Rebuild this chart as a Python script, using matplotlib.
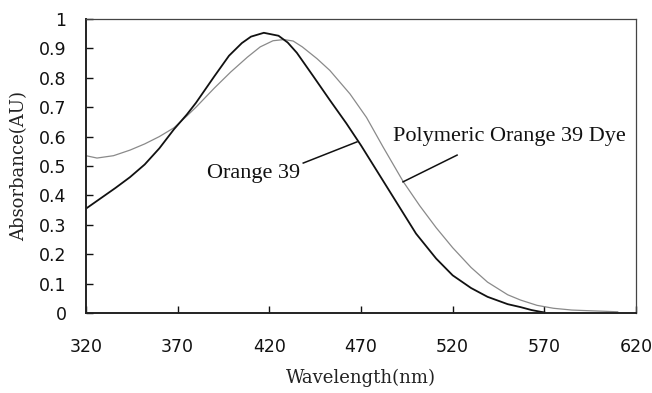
import matplotlib.pyplot as plt
import numpy as np

# absorbance spectra
wl_orange = [320, 328, 336, 344, 352, 360, 368, 375, 380, 390, 398, 405, 410, 417,
             425, 430, 435, 444, 453, 462, 470, 480, 490, 500, 511, 520, 530, 539,
             550, 557, 563, 568, 570]
abs_orange = [0.355, 0.39, 0.425, 0.462, 0.505, 0.56, 0.625, 0.675, 0.715, 0.805,
              0.875, 0.918, 0.94, 0.953, 0.943, 0.92, 0.885, 0.805, 0.724, 0.645,
              0.57, 0.47, 0.37, 0.27, 0.185, 0.128, 0.085, 0.055, 0.03, 0.02, 0.01,
              0.004, 0.002]

wl_poly = [320, 326, 335, 344, 352, 360, 368, 375, 380, 390, 399, 408, 415, 422,
           428, 433, 438, 446, 453, 464, 473, 482, 493, 502, 511, 520, 530, 539,
           550, 557, 566, 575, 585, 593, 602, 610]
abs_poly = [0.535, 0.527, 0.535, 0.554, 0.575, 0.60, 0.63, 0.67, 0.70, 0.765, 0.82,
            0.87, 0.905, 0.926, 0.93, 0.925, 0.905, 0.865, 0.825, 0.745, 0.665, 0.565,
            0.447, 0.365, 0.29, 0.222, 0.155, 0.105, 0.062, 0.044, 0.026, 0.016,
            0.01, 0.008, 0.006, 0.004]

xticks = [320, 370, 420, 470, 520, 570, 620]
yticks = [0, 0.1, 0.2, 0.3, 0.4, 0.5, 0.6, 0.7, 0.8, 0.9, 1]
ytick_labels = ['0', '0.1', '0.2', '0.3', '0.4', '0.5', '0.6', '0.7', '0.8', '0.9', '1']

fig = plt.figure(figsize=(6.52, 3.93), dpi=100)
ax = fig.add_axes([0.1319, 0.2036, 0.8436, 0.7481])

ax.plot(wl_poly, abs_poly, color='#8a8a8a', lw=0.9)
ax.plot(wl_orange, abs_orange, color='#111111', lw=1.3)

ax.set_xlim(320, 620)
ax.set_ylim(0, 1)
ax.set_xticks(xticks)
ax.set_yticks(yticks)
ax.set_yticklabels(ytick_labels)
ax.tick_params(direction='in', length=5, width=1, labelsize=12.5, colors='#111111')
ax.tick_params(axis='x', pad=18)
ax.tick_params(axis='y', pad=14)
for lab in ax.get_xticklabels() + ax.get_yticklabels():
    lab.set_fontfamily('DejaVu Sans')

for side in ['left', 'bottom']:
    ax.spines[side].set_linewidth(1.4)
    ax.spines[side].set_color('#222222')
for side in ['top', 'right']:
    ax.spines[side].set_linewidth(0.9)
    ax.spines[side].set_color('#444444')

ax.set_xlabel('Wavelength(nm)', family='DejaVu Serif', fontsize=13, labelpad=9,
              color='#222222')
ax.set_ylabel('Absorbance(AU)', family='DejaVu Serif', fontsize=13, labelpad=8,
              color='#222222')

# curve labels with leader lines
ax.text(411.5, 0.476, 'Orange 39', ha='center', va='center',
        family='Liberation Serif', fontsize=16, color='#111111')
ax.plot([438.5, 467.8], [0.51, 0.582], color='#111111', lw=1.1)

ax.text(551, 0.599, 'Polymeric Orange 39 Dye', ha='center', va='center',
        family='Liberation Serif', fontsize=16, color='#111111')
ax.plot([522.4, 492.9], [0.537, 0.446], color='#111111', lw=1.1)

fig.savefig('out.png', dpi=100)
